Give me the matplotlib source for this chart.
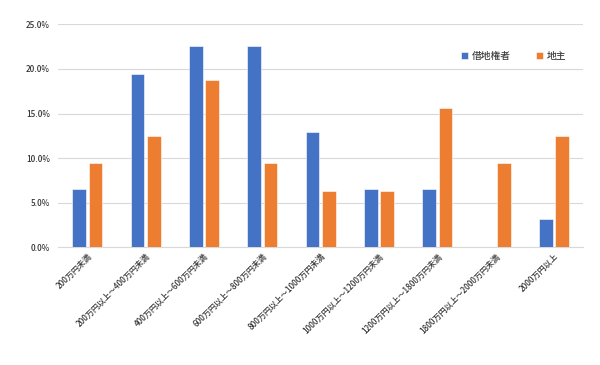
import numpy as np
import matplotlib.pyplot as plt
from matplotlib.ticker import PercentFormatter

plt.rcParams['font.family'] = ['Noto Sans CJK JP', 'DejaVu Sans']

# 年収区分
categories = ['200万円未満', '200万円以上～400万円未満', '400万円以上～600万円未満',
              '600万円以上～800万円未満', '800万円以上～1000万円未満',
              '1000万円以上～1200万円未満', '1200万円以上～1800万円未満',
              '1800万円以上～2000万円未満', '2000万円以上']
shakuchi = [6.5, 19.4, 22.6, 22.6, 12.9, 6.5, 6.5, 0.0, 3.2]   # 借地権者 (%)
jinushi = [9.4, 12.5, 18.8, 9.4, 6.3, 6.3, 15.6, 9.4, 12.5]    # 地主 (%)

x = np.arange(len(categories))
w = 0.23

fig = plt.figure(figsize=(6, 3.65), dpi=100)
ax = fig.add_axes([0.097, 0.323, 0.875, 0.61])

ax.bar(x - 0.14, shakuchi, w, color='#4472C4', edgecolor='white', linewidth=0.4, label='借地権者', zorder=3)
ax.bar(x + 0.14, jinushi, w, color='#ED7D31', edgecolor='white', linewidth=0.4, label='地主', zorder=3)

ax.set_xlim(-0.5, len(categories) - 0.5)
ax.set_ylim(0, 25)
ax.set_yticks([0, 5, 10, 15, 20, 25])
ax.yaxis.set_major_formatter(PercentFormatter(decimals=1))
ax.grid(axis='y', color='#D9D9D9', linewidth=0.8, zorder=0)
for s in ['top', 'right', 'left']:
    ax.spines[s].set_visible(False)
ax.spines['bottom'].set_color('#D9D9D9')
ax.tick_params(axis='both', length=0, labelsize=5.8, colors='#333333')
ax.tick_params(axis='y', pad=6)

ax.set_xticks(x)
ax.set_xticklabels(categories, rotation=45, ha='right', rotation_mode='anchor',
                   fontsize=5.8, fontweight='medium')
for t in ax.get_yticklabels():
    t.set_fontweight('medium')

ax.legend(loc='upper right', bbox_to_anchor=(0.985, 0.92), ncol=2, frameon=False,
          prop={'size': 7, 'weight': 'medium'}, handlelength=0.7, handleheight=0.7,
          columnspacing=2.6, handletextpad=0.4, labelcolor='#404040')

fig.savefig('out.png', dpi=100)
